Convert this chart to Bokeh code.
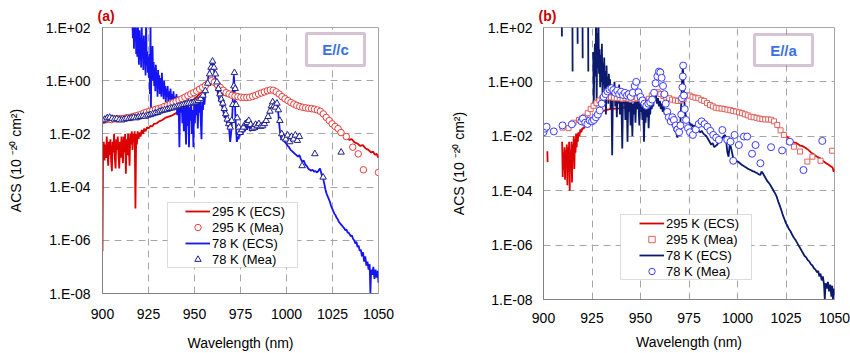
import numpy as np
from bokeh.plotting import figure
from bokeh.models import (FixedTicker, CustomJSTickFormatter, Legend, LegendItem,
                          Label, BoxAnnotation, Range1d)
from bokeh.layouts import row
from bokeh.embed import file_html
from bokeh.resources import INLINE

# ---------------- DATA (wavelength nm, log10 of ACS in 1e-20 cm^2) -------------
# Panel (a)  E//c
red_ecs_a = [(900.0,-6.4),(900.3,-2.6),(900.7,-2.3),(901.1,-3.0),(901.5,-2.4),(901.9,-2.9),(902.3,-2.1),
    (902.7,-2.7),(903.1,-3.2),(903.5,-2.3),(903.9,-2.8),(904.3,-2.2),(904.7,-3.0),(905.1,-3.4),(905.5,-2.3),
    (905.9,-2.7),(906.3,-2.0),(906.7,-2.9),(907.1,-3.3),(907.5,-2.2),(907.9,-2.6),(908.3,-2.1),(908.7,-2.8),
    (909.1,-3.3),(909.5,-2.3),(909.9,-2.9),(910.3,-2.1),(910.7,-2.5),(911.1,-3.1),(911.5,-2.1),(911.9,-2.7),
    (912.3,-2.0),(912.7,-3.5),(913.1,-2.2),(913.5,-2.8),(913.9,-2.0),(914.3,-2.5),(914.7,-3.2),(915.1,-2.0),
    (915.5,-2.4),(915.9,-1.9),(916.3,-2.6),(916.7,-2.0),(917.1,-2.3),(917.5,-1.9),(917.9,-4.8),(918.3,-2.0),
    (918.7,-2.4),(919.1,-1.9),(919.6,-2.2),(920.1,-1.95),(920.7,-2.1),(921.3,-1.85),(922.0,-2.0),(922.7,-1.8),
    (923.4,-1.9),(924.2,-1.75),(925.0,-1.8),(926.0,-1.7),(927.0,-1.72),(928.0,-1.62),(929.5,-1.6),(931.0,-1.52),
    (932.5,-1.48),(934.0,-1.4),(936.0,-1.35),(938.0,-1.3),(940.0,-1.22),(942.0,-1.12),(944.0,-1.02),
    (946.0,-0.92),(948.0,-0.8),(950.0,-0.68),(952.0,-0.55),(954.0,-0.4),(956.0,-0.2),(957.5,-0.08),
    (959.0,0.02),(960.5,-0.1),(962.0,-0.3),(964.0,-0.45),(966.0,-0.52),(968.0,-0.58),(970.0,-0.6),
    (972.0,-0.62),(975.0,-0.64),(978.0,-0.64),(981.0,-0.6),(984.0,-0.52),(987.0,-0.44),(990.0,-0.37),
    (992.0,-0.34),(994.0,-0.4),(996.0,-0.52),(998.0,-0.64),(1000.0,-0.72),(1003.0,-0.85),(1006.0,-0.95),
    (1009.0,-1.0),(1012.0,-1.05),(1015.0,-1.08),(1017.0,-1.12),(1019.0,-1.22),(1020.5,-1.38),(1022.0,-1.5),
    (1023.5,-1.6),(1025.0,-1.68),(1026.5,-1.78),(1028.0,-1.86),(1029.5,-1.95),(1031.0,-2.02),(1032.5,-2.1),
    (1034.0,-2.22),(1035.5,-2.2),(1037.0,-2.32),(1038.5,-2.36),(1040.0,-2.45),(1041.5,-2.42),(1043.0,-2.55),
    (1044.5,-2.6),(1046.0,-2.7),(1047.0,-2.66),(1048.0,-2.78),(1049.0,-2.75),(1050.0,-2.9)]

red_mea_a = [(900.0,-1.5),(901.6,-1.47),(903.2,-1.45),(904.8,-1.46),(906.4,-1.43),(908.0,-1.44),(909.6,-1.42),
    (911.2,-1.42),(912.8,-1.4),(914.4,-1.38),(916.0,-1.36),(917.6,-1.33),(919.2,-1.3),(920.8,-1.27),
    (922.4,-1.22),(924.0,-1.18),(925.6,-1.15),(927.2,-1.12),(928.8,-1.08),(930.4,-1.05),(932.0,-1.02),
    (933.6,-0.97),(935.2,-0.93),(936.8,-0.88),(938.4,-0.83),(940.0,-0.78),(941.6,-0.73),(943.2,-0.68),
    (944.8,-0.62),(946.4,-0.56),(948.0,-0.5),(949.6,-0.45),(951.2,-0.39),(952.8,-0.32),(954.4,-0.25),
    (956.0,-0.18),(957.6,-0.08),(959.2,0.0),(960.8,-0.06),(962.4,-0.15),(964.0,-0.25),(965.6,-0.36),
    (967.2,-0.45),(968.8,-0.5),(970.4,-0.55),(972.0,-0.58),(973.6,-0.6),(975.2,-0.62),(976.8,-0.63),
    (978.4,-0.63),(980.0,-0.62),(981.6,-0.59),(983.2,-0.55),(984.8,-0.5),(986.4,-0.46),(988.0,-0.42),
    (989.6,-0.38),(991.2,-0.35),(992.8,-0.36),(994.4,-0.42),(996.0,-0.5),(997.6,-0.6),(999.2,-0.68),
    (1000.8,-0.75),(1002.4,-0.82),(1004.0,-0.88),(1005.6,-0.93),(1007.2,-0.97),(1008.8,-1.0),(1010.4,-1.02),
    (1012.0,-1.04),(1013.6,-1.05),(1015.2,-1.07),(1016.8,-1.1),(1018.4,-1.15),(1020.0,-1.25),(1021.6,-1.38),
    (1023.2,-1.5),(1024.8,-1.62),(1026.4,-1.72),(1028.0,-1.8),(1029.6,-1.95),(1032.5,-2.1),(1036.0,-2.5),
    (1039.0,-2.75),(1041.8,-3.35),(1050.0,-3.45)]

blue_ecs_a = [(916.2,2.3),(916.5,1.6),(916.8,2.4),(917.1,1.2),(917.4,2.2),(917.7,1.5),(918.0,2.5),(918.3,1.0),
    (918.6,1.8),(918.9,0.9),(919.2,2.3),(919.5,1.3),(919.8,0.6),(920.1,1.9),(920.4,0.8),(920.7,1.6),(921.0,0.5),
    (921.3,2.2),(921.6,0.9),(921.9,1.4),(922.2,0.4),(922.5,1.7),(922.8,0.7),(923.1,1.2),(923.4,0.2),(923.7,2.4),
    (924.0,0.6),(924.3,1.1),(924.6,0.3),(924.9,0.9),(925.2,0.1),(925.5,1.0),(925.8,-0.5),(926.1,2.3),
    (926.3,-1.25),(926.6,0.8),(926.9,0.2),(927.2,1.3),(927.5,0.0),(927.8,0.7),(928.1,-0.2),(928.4,0.5),
    (928.7,-0.4),(929.0,0.6),(929.3,-0.1),(929.6,0.3),(929.9,-0.6),(930.2,0.4),(930.5,-0.3),(930.8,0.2),
    (931.1,-0.5),(931.4,0.1),(931.7,-0.2),(932.0,-0.6),(932.3,0.3),(932.6,-0.4),(932.9,-0.1),(933.2,-0.7),
    (933.5,0.0),(933.8,-0.5),(934.1,-0.2),(934.4,-0.8),(934.7,-0.3),(935.0,-0.6),(935.4,-0.2),(935.8,-0.9),
    (936.2,-0.4),(936.6,-0.7),(937.0,-0.3),(937.4,-1.0),(937.8,-0.5),(938.2,-0.8),(938.6,-0.4),(939.0,-1.1),
    (939.4,-0.6),(939.8,-0.9),(940.2,-0.5),(940.6,-1.3),(941.0,-0.6),(941.4,-1.0),(941.8,-2.5),(942.2,-0.7),
    (942.6,-1.2),(943.0,-0.6),(943.4,-1.6),(943.8,-0.8),(944.2,-1.9),(944.6,-0.7),(945.0,-1.4),(945.4,-2.4),
    (945.8,-0.9),(946.2,-1.7),(946.6,-0.6),(947.0,-2.5),(947.4,-1.0),(947.8,-1.5),(948.2,-0.7),(948.6,-2.0),
    (949.0,-1.1),(949.4,-2.5),(949.8,-0.8),(950.2,-1.6),(950.6,-0.9),(951.0,-1.3),(951.4,-0.7),(951.8,-1.8),
    (952.2,-0.8),(952.6,-1.2),(953.0,-0.6),(953.4,-1.5),(953.8,-2.2),(954.2,-0.8),(954.6,-1.1),(955.0,-0.6),
    (955.4,-0.9),(955.8,-0.5),(956.2,-0.4),(956.8,-0.2),(957.4,0.1),(958.0,0.3),(958.6,0.5),(959.2,0.65),
    (959.8,0.7),(960.4,0.5),(961.0,0.2),(961.6,0.0),(962.2,-0.3),(962.8,-0.5),(963.4,-0.7),(964.0,-0.8),
    (964.6,-0.9),(965.2,-1.0),(965.8,-1.2),(966.4,-1.4),(967.0,-1.3),(967.6,-1.6),(968.2,-1.7),(968.8,-1.8),
    (969.4,-2.3),(970.0,-1.9),(970.6,-1.2),(971.0,-0.3),(971.4,0.2),(971.8,-0.3),(972.2,-1.3),(972.6,-1.8),
    (973.0,-2.3),(973.5,-2.1),(974.0,-2.2),(974.5,-1.9),(975.0,-2.05),(975.6,-1.85),(976.2,-2.0),(976.8,-1.7),
    (977.4,-1.9),(978.0,-1.65),(978.6,-1.85),(979.2,-1.6),(979.8,-1.75),(980.4,-1.9),(981.0,-1.7),
    (981.6,-1.85),(982.2,-1.65),(982.8,-1.8),(983.4,-1.7),(984.0,-1.85),(984.6,-1.65),(985.2,-1.75),
    (985.8,-1.6),(986.4,-1.7),(987.0,-1.55),(987.6,-1.65),(988.2,-1.5),(988.8,-1.55),(989.4,-1.4),
    (990.0,-1.3),(990.6,-1.2),(991.2,-1.0),(991.8,-0.85),(992.4,-0.75),(993.0,-0.95),(993.6,-0.8),
    (994.2,-1.0),(994.8,-0.8),(995.4,-1.1),(996.0,-1.6),(996.6,-2.0),(997.2,-2.2),(997.8,-2.15),(998.4,-2.25),
    (999.0,-2.3),(999.8,-2.35),(1000.6,-2.45),(1001.4,-2.5),(1002.2,-2.6),(1003.0,-2.65),(1003.8,-2.7),
    (1004.6,-2.75),(1005.4,-2.8),(1006.2,-2.85),(1007.0,-2.8),(1007.8,-2.95),(1008.6,-3.05),(1009.4,-3.0),
    (1010.2,-3.15),(1011.0,-3.2),(1011.8,-3.3),(1012.6,-3.35),(1013.4,-3.38),(1014.2,-3.35),(1015.0,-3.42),
    (1015.8,-3.4),(1016.6,-3.45),(1017.4,-3.38),(1018.2,-3.3),(1018.8,-3.45),(1019.4,-3.6),(1020.0,-3.7),
    (1020.6,-3.9),(1021.2,-4.1),(1021.8,-4.25),(1022.4,-4.35),(1023.0,-4.45),(1023.6,-4.55),(1024.2,-4.7),
    (1024.8,-4.8),(1025.4,-4.9),(1026.0,-5.0),(1026.6,-5.05),(1027.2,-5.15),(1027.8,-5.2),(1028.4,-5.3),
    (1029.0,-5.35),(1029.6,-5.4),(1030.2,-5.45),(1030.8,-5.5),(1031.4,-5.55),(1032.0,-5.62),(1032.6,-5.6),
    (1033.2,-5.7),(1033.8,-5.72),(1034.4,-5.78),(1035.0,-5.85),(1035.6,-5.82),(1036.2,-5.95),(1036.8,-6.0),
    (1037.4,-6.12),(1038.0,-6.05),(1038.6,-6.25),(1039.2,-6.2),(1039.8,-6.4),(1040.4,-6.35),(1041.0,-6.6),
    (1041.6,-6.45),(1042.2,-6.8),(1042.8,-6.6),(1043.4,-6.95),(1044.0,-6.8),(1044.6,-7.1),(1045.2,-6.9),
    (1045.6,-8.0),(1046.0,-7.1),(1046.6,-7.3),(1047.2,-7.0),(1047.8,-7.45),(1048.4,-7.1),(1049.0,-7.4),
    (1049.6,-7.15),(1050.0,-7.6)]

blue_mea_a = [(900.0,-1.5),(901.3,-1.45),(902.6,-1.4),(903.9,-1.38),(905.2,-1.42),(906.5,-1.45),(907.8,-1.43),
    (909.1,-1.47),(910.4,-1.48),(911.7,-1.45),(913.0,-1.42),(914.3,-1.43),(915.6,-1.4),(916.9,-1.38),
    (918.2,-1.4),(919.5,-1.37),(920.8,-1.35),(922.1,-1.33),(923.4,-1.34),(924.7,-1.3),(926.0,-1.28),
    (927.3,-1.25),(928.6,-1.22),(929.9,-1.2),(931.2,-1.15),(932.5,-1.12),(933.8,-1.1),(935.1,-1.08),
    (936.4,-1.05),(937.7,-1.03),(939.0,-1.0),(940.3,-0.98),(941.6,-0.95),(942.9,-0.93),(944.2,-0.9),
    (945.5,-0.88),(946.8,-0.86),(948.1,-0.85),(949.4,-0.83),(950.7,-0.8),(952.0,-0.75),(953.3,-0.68),
    (954.6,-0.55),(955.9,-0.38),(957.2,-0.1),(958.2,0.25),(959.0,0.5),(959.8,0.73),(960.6,0.5),(961.4,0.25),
    (962.2,-0.05),(963.0,-0.3),(963.8,-0.5),(964.6,-0.7),(965.4,-0.85),(966.2,-1.05),(967.0,-1.25),
    (967.8,-1.45),(968.6,-1.62),(969.4,-1.75),(970.2,-1.5),(970.8,-0.9),(971.4,-0.2),(971.7,0.3),(972.1,-0.3),
    (972.6,-0.9),(973.2,-1.4),(974.0,-1.75),(974.8,-1.95),(975.7,-1.85),(976.6,-1.75),(977.6,-1.62),
    (978.6,-1.58),(979.5,-1.5),(980.5,-1.65),(981.4,-1.8),(982.3,-1.75),(983.2,-1.65),(984.1,-1.7),
    (985.0,-1.62),(986.0,-1.72),(987.0,-1.7),(988.0,-1.62),(989.0,-1.5),(990.0,-1.35),(991.0,-1.15),
    (991.8,-0.95),(992.5,-0.8),(993.2,-0.95),(994.0,-1.0),(994.8,-0.85),(995.6,-1.1),(996.4,-1.5),
    (997.4,-2.0),(998.5,-2.15),(999.6,-2.2),(1000.6,-2.05),(1001.7,-2.3),(1002.7,-2.1),(1003.8,-2.2),
    (1004.8,-2.05),(1005.9,-2.25),(1007.0,-2.1),(1008.5,-3.2),(1015.4,-2.75),(1019.9,-3.63),(1029.7,-2.69)]

# Panel (b)  E//a   (None = break in the measured curve)
red_ecs_b = [(902.0,-2.55),(902.1,-2.95),(902.2,None),(909.6,-2.2),(909.9,-3.5),(910.2,-2.6),(910.5,-3.2),
    (910.8,-2.4),(911.1,-3.6),(911.4,-2.5),(911.7,-3.0),(912.0,-2.3),(912.3,-3.8),(912.6,-2.4),(912.9,-3.3),
    (913.2,-2.2),(913.5,-4.0),(913.8,-2.5),(914.1,-3.1),(914.4,-2.2),(914.7,-3.7),(915.0,-2.3),(915.3,-2.9),
    (915.6,-2.0),(915.9,-3.2),(916.2,-2.1),(916.5,-2.6),(916.8,-1.9),(917.1,-2.4),(917.4,-1.9),(917.7,-2.2),
    (918.0,-1.85),(918.5,-2.0),(919.0,-1.75),(919.5,-1.85),(920.0,-1.7),(920.7,-1.72),(921.4,-1.6),
    (922.1,-1.62),(922.8,-1.52),(923.5,-1.5),(924.2,-1.45),(925.0,-1.42),(926.0,-1.32),(927.0,-1.25),
    (928.0,-1.2),(929.0,-1.15),(930.0,-1.1),(931.5,-1.05),(933.0,-1.02),(935.0,-0.99),(937.0,-0.98),
    (939.0,-0.97),(941.0,-0.95),(943.0,-0.93),(945.0,-0.9),(947.0,-0.87),(949.0,-0.84),(951.0,-0.8),
    (953.0,-0.7),(955.0,-0.55),(957.0,-0.4),(958.5,-0.35),(960.0,-0.45),(962.0,-0.55),(964.0,-0.6),
    (966.0,-0.6),(968.0,-0.62),(970.0,-0.63),(972.0,-0.6),(973.5,-0.55),(975.0,-0.5),(977.0,-0.55),
    (979.0,-0.6),(981.0,-0.65),(983.0,-0.72),(985.0,-0.8),(987.0,-0.88),(989.0,-0.95),(991.0,-0.98),
    (993.0,-1.0),(995.0,-1.03),(997.0,-1.06),(999.0,-1.09),(1001.0,-1.13),(1003.0,-1.17),(1005.0,-1.22),
    (1007.0,-1.26),(1009.0,-1.3),(1011.0,-1.33),(1013.0,-1.36),(1015.0,-1.37),(1017.0,-1.38),(1018.5,-1.45),
    (1020.0,-1.58),(1021.5,-1.72),(1023.0,-1.85),(1024.5,-1.95),(1026.0,-2.05),(1027.5,-2.13),(1029.0,-2.22),
    (1030.5,-2.25),(1032.0,-2.33),(1033.5,-2.36),(1035.0,-2.42),(1036.5,-2.5),(1038.0,-2.6),(1039.5,-2.68),
    (1041.0,-2.75),(1042.5,-2.8),(1044.0,-2.9),(1045.5,-2.98),(1047.0,-3.05),(1048.0,-3.1),(1049.0,-3.15),
    (1049.6,-3.3),(1050.0,-3.2)]

red_mea_b = [(909.8,-1.68),(912.9,-1.7),(915.5,-1.5),(918.3,-1.4),(919.8,-1.35),(921.3,-1.28),(922.8,-1.15),
    (924.3,-1.0),(925.8,-0.88),(927.3,-0.78),(928.8,-0.68),(930.3,-0.6),(931.8,-0.56),(933.3,-0.55),
    (934.8,-0.57),(936.3,-0.58),(937.8,-0.6),(939.3,-0.6),(940.8,-0.62),(942.3,-0.6),(943.8,-0.62),
    (945.3,-0.65),(946.8,-0.63),(948.3,-0.6),(949.8,-0.62),(951.3,-0.68),(952.8,-0.72),(954.3,-0.62),
    (955.8,-0.5),(957.3,-0.4),(958.8,-0.38),(960.3,-0.45),(961.8,-0.52),(963.3,-0.58),(964.8,-0.6),
    (966.3,-0.65),(967.8,-0.68),(969.3,-0.7),(970.8,-0.68),(972.3,-0.62),(973.8,-0.5),(975.3,-0.5),
    (976.8,-0.55),(978.3,-0.58),(979.8,-0.6),(981.3,-0.66),(982.8,-0.7),(984.3,-0.78),(985.8,-0.85),
    (987.3,-0.9),(988.8,-0.95),(990.3,-0.97),(991.8,-0.98),(993.3,-1.0),(994.8,-1.02),(996.3,-1.04),
    (997.8,-1.07),(999.3,-1.09),(1000.8,-1.12),(1002.3,-1.15),(1003.8,-1.19),(1005.3,-1.23),(1006.8,-1.28),
    (1008.3,-1.3),(1009.8,-1.32),(1011.3,-1.35),(1012.8,-1.37),(1014.3,-1.38),(1015.8,-1.38),(1017.3,-1.39),
    (1018.8,-1.45),(1020.5,-1.58),(1022.2,-1.78),(1023.9,-1.95),(1026.5,-2.2),(1029.1,-2.38),(1032.2,-2.56),
    (1036.0,-2.93),(1038.6,-2.75),(1042.8,-2.9),(1048.8,-2.53)]

blue_ecs_b = [(909.4,2.5),(909.5,1.67),(909.6,None),(914.9,2.5),(915.0,0.38),(915.1,None),(917.5,2.5),
    (917.6,1.4),(917.7,None),(920.1,2.5),(920.2,0.87),(920.3,None),(923.0,2.5),(923.1,0.38),(923.2,None),
    (925.6,1.1),(925.9,-0.97),(926.2,0.6),(926.5,1.4),(926.8,0.2),(927.1,2.5),(927.4,-0.9),(927.7,1.8),
    (928.0,0.5),(928.3,2.5),(928.6,0.3),(928.9,1.2),(929.2,-0.2),(929.5,1.0),(929.8,0.0),(930.1,1.4),
    (930.4,-0.5),(930.7,0.7),(931.0,-0.1),(931.3,0.9),(931.6,-0.6),(931.9,0.4),(932.2,-1.2),(932.5,0.6),
    (932.8,-0.3),(933.1,0.2),(933.4,-0.8),(933.7,0.3),(934.0,-0.4),(934.3,0.1),(934.6,-1.0),(935.0,-0.2),
    (935.4,-2.7),(935.8,-0.3),(936.2,-0.7),(936.6,0.0),(937.0,-0.9),(937.4,-0.2),(937.8,-1.3),(938.2,-0.3),
    (938.6,-0.8),(939.0,-0.1),(939.4,-1.2),(939.8,-0.4),(940.2,-0.9),(940.6,-2.45),(941.0,-0.5),(941.4,-0.8),
    (941.8,-0.3),(942.2,-1.4),(942.6,-0.5),(943.0,-0.9),(943.3,-2.2),(943.7,-0.6),(944.1,-1.1),(944.5,-0.4),
    (944.9,-1.6),(945.3,-0.7),(945.8,-2.0),(946.2,-0.8),(946.6,-1.2),(947.0,-0.5),(947.4,-1.5),(947.8,-0.7),
    (948.2,-1.0),(948.6,-0.3),(949.0,-0.9),(949.4,-1.6),(949.8,-0.6),(950.2,-1.1),(950.6,-0.8),(951.0,-1.4),
    (951.4,-0.9),(951.8,-2.2),(952.2,-1.0),(952.6,-1.5),(953.0,-0.9),(953.4,-1.3),(953.8,-0.8),(954.2,-1.7),
    (954.6,-0.9),(955.0,-1.2),(955.4,-0.7),(955.8,-1.0),(956.2,-0.6),(956.6,-0.9),(957.0,-0.5),(957.5,-0.7),
    (958.0,-0.5),(958.5,-0.8),(959.0,-0.6),(959.5,-0.9),(960.0,-0.7),(960.5,-1.0),(961.0,-0.8),(961.5,-1.1),
    (962.0,-0.9),(962.5,-1.2),(963.0,-1.0),(963.5,-1.3),(964.0,-1.1),(964.5,-1.4),(965.0,-1.2),(965.5,-1.5),
    (966.0,-1.35),(966.5,-1.6),(967.0,-1.5),(967.5,-1.8),(968.0,-1.6),(968.5,-1.9),(969.0,-2.05),(969.5,-1.8),
    (970.0,-1.9),(970.5,-1.6),(971.0,-0.8),(971.4,0.0),(971.8,0.6),(972.2,0.0),(972.6,-0.7),(973.0,-1.1),
    (973.5,-1.3),(974.0,-1.35),(974.6,-1.45),(975.2,-1.5),(975.8,-1.6),(976.4,-1.55),(977.0,-1.65),
    (977.6,-1.6),(978.2,-1.7),(978.8,-1.75),(979.4,-1.7),(980.0,-1.8),(980.8,-1.85),(981.6,-1.8),
    (982.4,-1.9),(983.2,-1.95),(984.0,-2.0),(984.8,-2.1),(985.6,-2.2),(986.4,-2.3),(987.2,-2.25),(988.0,-2.4),
    (988.8,-2.35),(989.6,-2.3),(990.4,-2.2),(991.2,-2.15),(992.0,-2.1),(992.8,-2.0),(993.6,-1.95),
    (994.2,-2.2),(994.8,-2.6),(995.4,-2.75),(996.0,-2.3),(996.6,-2.4),(997.2,-2.6),(997.8,-2.8),(998.4,-2.85),
    (999.0,-2.9),(999.8,-2.92),(1000.6,-2.95),(1001.4,-3.0),(1002.2,-3.05),(1003.0,-3.08),(1003.8,-3.12),
    (1004.6,-3.15),(1005.4,-3.2),(1006.2,-3.22),(1007.0,-3.25),(1007.8,-3.28),(1008.6,-3.3),(1009.4,-3.33),
    (1010.2,-3.36),(1011.0,-3.4),(1011.8,-3.42),(1012.4,-3.3),(1013.0,-3.35),(1013.8,-3.45),(1014.6,-3.55),
    (1015.4,-3.65),(1016.2,-3.72),(1017.0,-3.8),(1017.8,-3.9),(1018.6,-4.0),(1019.4,-4.1),(1020.2,-4.22),
    (1021.0,-4.4),(1021.8,-4.55),(1022.6,-4.72),(1023.4,-4.9),(1024.2,-5.05),(1025.0,-5.2),(1025.8,-5.3),
    (1026.6,-5.42),(1027.4,-5.5),(1028.2,-5.62),(1029.0,-5.72),(1029.8,-5.8),(1030.6,-5.9),(1031.4,-6.0),
    (1032.2,-6.1),(1033.0,-6.2),(1033.8,-6.3),(1034.6,-6.4),(1035.4,-6.45),(1036.2,-6.55),(1037.0,-6.6),
    (1037.8,-6.7),(1038.6,-6.75),(1039.4,-6.85),(1040.2,-6.9),(1041.0,-7.0),(1041.6,-6.95),(1042.2,-7.15),
    (1042.8,-7.05),(1043.4,-7.3),(1044.0,-7.15),(1044.6,-7.45),(1045.0,-8.0),(1045.4,-7.4),(1046.0,-7.6),
    (1046.6,-7.35),(1047.2,-7.7),(1047.8,-7.45),(1048.4,-7.9),(1048.8,-7.5),(1049.2,-8.0),(1049.6,-7.6),
    (1050.0,-7.85)]

blue_mea_b = [(900.0,-1.85),(900.7,-1.72),(901.6,-1.65),(905.3,-1.82),(909.8,-1.6),(914.6,-1.56),(919.5,-1.45),
    (920.3,-1.35),(921.5,-1.5),(922.6,-1.55),(923.8,-1.42),(925.0,-1.45),(926.0,-1.4),(927.0,-1.3),
    (928.0,-1.2),(929.0,-1.05),(930.0,-0.8),(931.0,-0.55),(932.0,-0.45),(933.0,-0.35),(934.0,-0.28),
    (935.0,-0.23),(936.0,-0.3),(937.0,-0.4),(938.0,-0.32),(939.0,-0.45),(940.0,-0.36),(941.0,-0.48),
    (942.0,-0.4),(943.0,-0.5),(944.0,-0.45),(945.0,-0.55),(946.0,-0.4),(947.0,-0.15),(947.8,0.0),(949.0,-0.38),
    (950.0,-0.55),(951.0,-0.68),(952.0,-0.8),(953.0,-0.88),(954.0,-0.8),(955.0,-0.75),(956.0,-0.65),
    (957.0,-0.4),(957.8,-0.05),(958.7,0.2),(959.5,0.38),(960.2,0.35),(960.9,0.15),(961.6,-0.15),(962.3,-0.45),
    (963.0,-0.8),(963.8,-1.1),(964.6,-1.3),(965.6,-1.45),(966.4,-1.3),(967.2,-1.4),(968.2,-1.6),(969.0,-1.75),
    (969.9,-1.85),(970.6,-1.6),(971.0,-1.2),(971.4,-0.6),(971.6,-0.2),(971.8,0.2),(972.0,0.6),(972.4,-0.5),
    (972.8,-1.0),(973.5,-1.4),(974.5,-1.7),(975.5,-1.85),(977.0,-1.95),(978.5,-1.75),(980.0,-1.55),
    (981.5,-1.45),(983.0,-1.55),(984.5,-1.65),(986.0,-1.8),(987.5,-1.95),(989.0,-2.05),(990.4,-2.13),
    (992.2,-1.77),(994.7,-2.13),(996.4,-2.2),(997.8,-2.9),(998.5,-1.95),(1000.7,-2.32),(1003.3,-2.01),
    (1005.0,-2.01),(1007.5,-2.64),(1009.3,-2.32),(1011.8,-2.99),(1017.3,-2.4),(1023.0,-2.52),(1027.0,-2.2),
    (1034.0,-3.24),(1043.7,-2.17)]

y_tick_exponents = [-8, -6, -4, -2, 0, 2]
x_ticks = [900, 925, 950, 975, 1000, 1025, 1050]
legend_labels = ["295 K (ECS)", "295 K (Mea)", "78 K (ECS)", "78 K (Mea)"]

FONT = "Liberation Sans"


def xy(pairs):
    x = np.array([p[0] for p in pairs], dtype=float)
    e = np.array([np.nan if p[1] is None else p[1] for p in pairs], dtype=float)
    return x, np.power(10.0, e)


def make_panel(tag, fw, fh, bl, br, bt, bb, lbl_std, axl_std, xl_std, xaxl_std):
    p = figure(frame_width=fw, frame_height=fh, y_axis_type="log",
               x_range=Range1d(900, 1050), y_range=Range1d(1e-8, 1e2),
               output_backend="svg", toolbar_location=None,
               min_border_left=bl, min_border_right=br,
               min_border_top=bt, min_border_bottom=bb,
               background_fill_color="white", border_fill_color="white")
    p.title.text = tag
    p.title.align = "left"
    p.title.offset = -5
    p.title.standoff = 8
    p.title.text_line_height = 1.0
    p.title.text_font = FONT
    p.title.text_font_size = "14px"
    p.title.text_font_style = "bold"
    p.title.text_color = "#cc0000"
    p.outline_line_color = "#a6a6a6"
    p.outline_line_width = 1
    p.xaxis.ticker = FixedTicker(ticks=x_ticks)
    p.yaxis.ticker = FixedTicker(ticks=[10.0 ** e for e in y_tick_exponents])
    p.yaxis.formatter = CustomJSTickFormatter(code="""
        const e = Math.round(Math.log10(tick));
        return "1.E" + (e < 0 ? "-" : "+") + String(Math.abs(e)).padStart(2, "0");
    """)
    for ax in (p.xaxis[0], p.yaxis[0]):
        ax.axis_line_color = "#808080"
        ax.axis_line_width = 1
        ax.major_tick_in = 0
        ax.major_tick_out = 0
        ax.minor_tick_line_color = None
        ax.major_label_text_font = FONT
        ax.major_label_text_font_size = "14px"
        ax.major_label_text_color = "#000000"
        ax.axis_label_text_font = FONT
        ax.axis_label_text_font_size = "14px"
        ax.axis_label_text_font_style = "normal"
        ax.axis_label_text_color = "#000000"
    p.yaxis.axis_label = "ACS (10 \u207b\u00b2\u2070 cm\u00b2)"
    p.xaxis.axis_label = "Wavelength (nm)"
    p.yaxis.major_label_standoff = lbl_std
    p.yaxis.axis_label_standoff = axl_std
    p.xaxis.major_label_standoff = xl_std
    p.xaxis.axis_label_standoff = xaxl_std
    for g in (p.xgrid[0], p.ygrid[0]):
        g.grid_line_color = "#a6a6a6"
        g.grid_line_dash = "7 5"
        g.grid_line_width = 1
    p.ygrid.ticker = FixedTicker(ticks=[10.0 ** e for e in y_tick_exponents])
    return p


def decorate(p, box, box_text, legend_box, legend_loc, items):
    l, r, t, b = box
    p.add_layout(BoxAnnotation(left=l, right=r, top=t, bottom=b, left_units="screen",
                               right_units="screen", top_units="screen", bottom_units="screen",
                               fill_color="white", fill_alpha=1.0, line_color="#7a3b6b", line_width=3))
    p.add_layout(Label(x=(l + r) / 2, y=(t + b) / 2, x_units="screen", y_units="screen", text=box_text,
                       text_font=FONT, text_font_size="15px", text_font_style="bold",
                       text_color="#3b6fe6", text_baseline="middle", text_align="center"))
    l, r, t, b = legend_box
    p.add_layout(BoxAnnotation(left=l, right=r, top=t, bottom=b, left_units="screen",
                               right_units="screen", top_units="screen", bottom_units="screen",
                               fill_color="white", fill_alpha=1.0, line_color="#8c8c8c", line_width=1))
    leg = Legend(items=[LegendItem(label=lab, renderers=[rr]) for lab, rr in zip(legend_labels, items)],
                 location=legend_loc, margin=0, padding=0, spacing=0,
                 label_height=16, glyph_height=16, glyph_width=25, label_standoff=2,
                 label_text_font=FONT, label_text_font_size="13px", label_text_color="#000000",
                 border_line_alpha=0, background_fill_alpha=0)
    p.add_layout(leg)


# ---------------- panel (a) ----------------
pa = make_panel("(a)", 276, 266, 102, 47, 27, 60, 12, 19, 15, 13)
x, y = xy(red_ecs_a)
ra1 = pa.line(x, y, line_color="#dd0000", line_width=1.8)
x, y = xy(blue_ecs_a)
ra3 = pa.line(x, y, line_color="#1414f5", line_width=1.8)
x, y = xy(red_mea_a)
ra2 = pa.scatter(x, y, marker="circle", size=6.5, line_color="#e0403c", fill_color="white", line_width=1)
x, y = xy(blue_mea_a)
ra4 = pa.scatter(x, y, marker="triangle", size=6.5, line_color="#1e1e8c", fill_color="white", line_width=1)
decorate(pa, (204, 262, 260, 228), "E//c", (65, 195, 91, 26), (83, 26), [ra1, ra2, ra3, ra4])

# ---------------- panel (b) ----------------
pb = make_panel("(b)", 291, 272, 118, 16, 26, 55, 11, 18, 13, 8)
x, y = xy(red_ecs_b)
rb1 = pb.line(x, y, line_color="#dd0000", line_width=1.8)
x, y = xy(blue_ecs_b)
rb3 = pb.line(x, y, line_color="#0c1a6e", line_width=1.8)
x, y = xy(red_mea_b)
rb2 = pb.scatter(x, y, marker="square", size=5, line_color="#e0605a", fill_color="white", line_width=1)
x, y = xy(blue_mea_b)
rb4 = pb.scatter(x, y, marker="circle", size=7, line_color="#3a3aff", fill_color="white", line_width=1)
decorate(pb, (211, 269, 265, 234), "E//a", (77, 208, 85, 20), (96, 20), [rb1, rb2, rb3, rb4])

layout = row(pa, pb)
open("out.html", "w").write(file_html(layout, INLINE))
